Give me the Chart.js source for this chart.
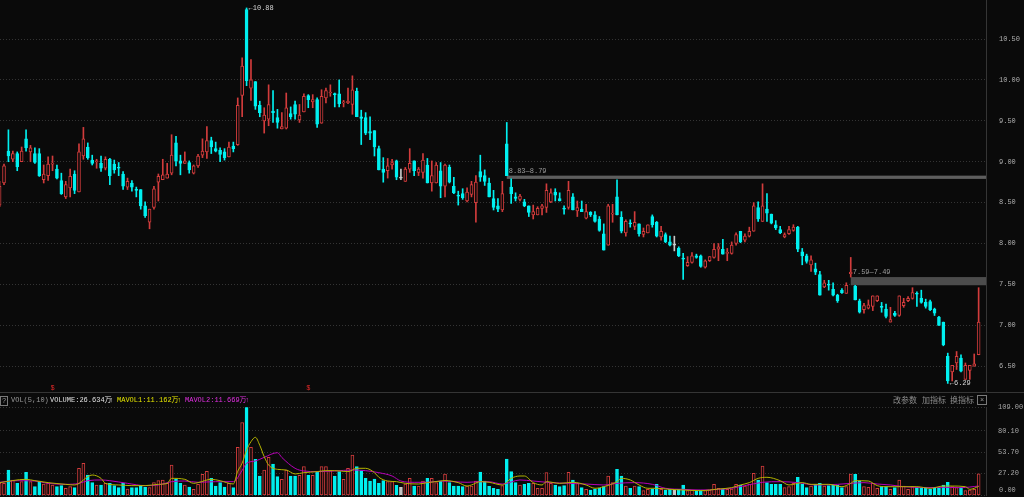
<!DOCTYPE html>
<html>
<head>
<meta charset="utf-8">
<title>K线 + VOL</title>
<script src="https://cdn.jsdelivr.net/npm/chart.js@4.4.1/dist/chart.umd.min.js"></script>
<style>
  html, body { margin: 0; padding: 0; background: #0a0a0a; }
  #wrap { position: relative; width: 1024px; height: 497px; overflow: hidden; background: #0a0a0a; }
  #kline { position: absolute; left: 0; top: 0; }
  #vol { position: absolute; left: 0; top: 392px; }
  .line { position: absolute; background: #353535; }
  .t { position: absolute; top: 395px; height: 10px; line-height: 10px; white-space: nowrap;
       font-family: 'Liberation Mono', 'Noto Sans CJK SC', monospace; font-size: 7px; }
  .cn { font-family: 'Noto Sans CJK SC', sans-serif; font-size: 8px; color: #8c8c8c; }
  .box { position: absolute; border: 1px solid #7a7a7a; color: #9a9a9a; font: 7px 'Liberation Mono', monospace;
         text-align: center; line-height: 8px; }
</style>
</head>
<body>
<div id="wrap">
  <canvas id="kline" width="1024" height="392"></canvas>
  <canvas id="vol" width="1024" height="105"></canvas>
  <div class="line" style="left:0;top:392px;width:1024px;height:1px;"></div>

  <div class="box" style="left:0;top:396px;width:6px;height:8px;">?</div>
  <div class="t" style="left:11px;color:#9a9a9a;">VOL(5,10)</div>
  <div class="t" style="left:50px;color:#e0e0e0;">VOLUME:26.634万</div>
  <div class="t" style="left:109px;color:#e0e0e0;">↑</div>
  <div class="t" style="left:117px;color:#e2e200;">MAVOL1:11.162万</div>
  <div class="t" style="left:177px;color:#e2e200;">↑</div>
  <div class="t" style="left:185px;color:#e030e0;">MAVOL2:11.669万</div>
  <div class="t" style="left:245px;color:#e030e0;">↑</div>

  <div class="t cn" style="left:893px;">改参数</div>
  <div class="t cn" style="left:922px;">加指标</div>
  <div class="t cn" style="left:950px;">换指标</div>
  <div class="box" style="left:977px;top:395px;width:8px;height:8px;">×</div>
</div>

<script>
// 日K 数据
const openP = [
  8.47,8.74,9.13,9.03,9.10,9.00,9.28,9.12,9.10,9.10,
  8.78,8.83,8.97,8.91,8.77,8.57,8.68,8.85,8.63,9.07,
  9.18,9.02,9.00,8.98,8.92,9.03,8.97,8.93,8.85,8.69,
  8.74,8.66,8.66,8.46,8.26,8.44,8.75,8.78,8.80,8.86,
  9.23,9.01,8.98,8.99,8.86,8.95,9.08,9.12,9.26,9.16,
  9.14,9.12,9.06,9.19,9.21,9.81,10.86,9.90,9.98,9.69,
  9.50,9.52,9.62,9.54,9.40,9.41,9.59,9.70,9.51,9.61,
  9.81,9.73,9.76,9.47,9.78,9.84,9.83,9.83,9.72,9.72,
  9.70,9.86,9.55,9.54,9.37,9.38,9.16,8.91,8.89,8.96,
  9.01,8.80,8.76,8.91,9.01,8.87,8.87,8.96,8.74,8.74,
  8.89,8.70,8.93,8.70,8.59,8.61,8.52,8.60,8.50,8.88,
  8.83,8.74,8.55,8.46,8.41,9.22,8.69,8.57,8.54,8.51,
  8.46,8.35,8.35,8.43,8.44,8.51,8.63,8.55,8.43,8.44,
  8.57,8.40,8.42,8.31,8.38,8.35,8.30,8.12,7.98,8.36,
  8.57,8.32,8.13,8.25,8.21,8.24,8.11,8.13,8.33,8.26,
  8.08,8.11,8.02,7.98,7.94,7.82,7.73,7.77,7.85,7.85,
  7.71,7.79,7.83,7.93,7.93,7.88,7.88,8.00,8.15,8.04,
  8.09,8.15,8.44,8.27,8.42,8.36,8.23,8.17,8.08,8.12,
  8.16,8.20,7.90,7.85,7.74,7.69,7.62,7.47,7.50,7.44,
  7.37,7.43,7.39,7.63,7.48,7.30,7.19,7.21,7.23,7.30,
  7.23,7.20,7.04,7.15,7.12,7.24,7.30,7.33,7.39,7.33,
  7.28,7.29,7.20,7.10,7.04,6.62,6.43,6.54,6.60,6.34,
  6.45,6.50,6.64
];
const highP = [
  8.76,8.97,9.39,9.13,9.12,9.18,9.39,9.20,9.17,9.16,
  8.96,9.06,9.07,8.96,8.86,8.76,8.91,8.89,9.22,9.42,
  9.23,9.08,9.03,9.07,9.06,9.04,9.02,8.99,8.88,8.80,
  8.77,8.69,8.66,8.51,8.42,8.70,8.85,9.03,8.98,9.33,
  9.31,9.08,9.12,9.01,8.96,9.09,9.28,9.43,9.30,9.24,
  9.17,9.16,9.24,9.24,9.78,10.27,10.88,10.25,9.98,9.74,
  9.66,9.94,9.87,9.64,9.60,9.84,9.67,9.74,9.70,9.83,
  9.82,9.82,9.78,9.88,9.90,9.94,9.84,10.00,9.75,9.90,
  10.05,9.90,9.63,9.60,9.55,9.38,9.19,9.05,9.04,9.03,
  9.02,8.91,8.93,9.16,9.01,8.93,9.10,9.04,9.01,8.99,
  8.99,8.97,8.96,8.81,8.64,8.67,8.68,8.76,8.83,9.08,
  8.90,8.80,8.65,8.55,8.76,9.48,8.79,8.62,8.60,8.54,
  8.46,8.47,8.45,8.48,8.73,8.67,8.67,8.62,8.46,8.76,
  8.61,8.52,8.52,8.48,8.39,8.39,8.33,8.24,8.48,8.48,
  8.78,8.39,8.29,8.29,8.39,8.24,8.19,8.23,8.35,8.27,
  8.21,8.13,8.09,8.09,7.96,7.88,7.84,7.89,7.87,7.86,
  7.80,7.84,8.00,8.00,8.05,7.94,8.02,8.13,8.15,8.12,
  8.20,8.50,8.51,8.73,8.61,8.36,8.28,8.21,8.13,8.21,
  8.23,8.21,7.94,7.87,7.85,7.76,7.66,7.55,7.55,7.52,
  7.38,7.45,7.52,7.83,7.49,7.32,7.27,7.31,7.36,7.36,
  7.28,7.26,7.22,7.17,7.36,7.33,7.35,7.46,7.41,7.43,
  7.32,7.31,7.21,7.11,7.04,6.66,6.51,6.68,6.64,6.54,
  6.51,6.65,7.46
];
const lowP = [
  8.45,8.72,9.00,9.00,8.89,9.00,9.13,9.00,8.98,8.82,
  8.74,8.77,8.89,8.79,8.60,8.55,8.57,8.61,8.63,9.03,
  9.03,8.96,8.92,8.88,8.90,8.72,8.86,8.83,8.66,8.66,
  8.64,8.57,8.42,8.32,8.18,8.42,8.52,8.78,8.80,8.84,
  8.95,8.84,8.98,8.86,8.85,8.93,9.05,9.04,9.10,9.12,
  9.00,9.02,9.06,9.12,9.20,9.55,9.93,9.75,9.64,9.55,
  9.35,9.44,9.48,9.41,9.40,9.40,9.52,9.52,9.48,9.61,
  9.66,9.66,9.42,9.47,9.72,9.80,9.67,9.67,9.67,9.71,
  9.58,9.55,9.21,9.33,9.27,9.07,8.90,8.75,8.80,8.91,
  8.78,8.78,8.76,8.87,8.83,8.83,8.80,8.74,8.64,8.74,
  8.56,8.57,8.74,8.61,8.47,8.54,8.51,8.57,8.26,8.76,
  8.71,8.57,8.41,8.39,8.39,8.83,8.49,8.52,8.52,8.45,
  8.33,8.30,8.35,8.35,8.38,8.50,8.52,8.52,8.36,8.42,
  8.41,8.33,8.39,8.30,8.33,8.26,8.15,7.92,7.98,8.26,
  8.35,8.13,8.09,8.20,8.17,8.09,8.08,8.13,8.20,8.08,
  8.04,8.01,7.97,7.91,7.84,7.56,7.72,7.76,7.82,7.71,
  7.70,7.78,7.82,7.79,7.87,7.79,7.87,7.98,8.01,8.02,
  8.08,8.15,8.27,8.27,8.27,8.24,8.17,8.12,8.07,8.11,
  8.15,7.90,7.74,7.76,7.66,7.62,7.37,7.46,7.43,7.36,
  7.28,7.39,7.39,7.59,7.31,7.15,7.15,7.20,7.18,7.29,
  7.16,7.09,7.04,7.11,7.11,7.22,7.29,7.32,7.23,7.27,
  7.21,7.18,7.12,7.00,6.75,6.29,6.32,6.46,6.43,6.34,
  6.34,6.50,6.64
];
const closeP = [
  8.70,8.95,9.07,9.10,8.94,9.13,9.17,9.17,8.99,8.83,
  8.85,8.97,8.98,8.80,8.61,8.72,8.82,8.65,9.12,9.28,
  9.05,8.98,9.01,8.92,9.03,8.83,8.90,8.92,8.70,8.76,
  8.69,8.65,8.46,8.34,8.42,8.67,8.82,8.84,8.85,9.08,
  9.01,8.98,9.01,8.90,8.95,9.07,9.13,9.26,9.18,9.13,
  9.09,9.05,9.18,9.16,9.69,10.17,9.99,10.00,9.68,9.60,
  9.57,9.70,9.60,9.48,9.43,9.66,9.55,9.58,9.57,9.80,
  9.76,9.76,9.46,9.80,9.87,9.85,9.82,9.71,9.73,9.74,
  9.88,9.55,9.53,9.35,9.35,9.18,8.90,8.87,8.95,8.99,
  8.81,8.80,8.91,8.98,8.89,8.91,9.02,8.74,8.83,8.96,
  8.70,8.96,8.75,8.62,8.58,8.56,8.63,8.72,8.75,8.81,
  8.76,8.57,8.44,8.42,8.61,8.83,8.61,8.55,8.58,8.46,
  8.38,8.39,8.43,8.46,8.65,8.62,8.59,8.52,8.42,8.65,
  8.41,8.44,8.39,8.39,8.35,8.27,8.16,7.92,8.46,8.37,
  8.35,8.15,8.27,8.24,8.26,8.12,8.15,8.23,8.23,8.09,
  8.15,8.02,7.98,7.98,7.85,7.81,7.77,7.85,7.83,7.72,
  7.79,7.84,7.93,7.96,7.87,7.89,7.98,8.11,8.02,8.09,
  8.15,8.46,8.30,8.46,8.37,8.25,8.19,8.13,8.11,8.17,
  8.20,7.93,7.85,7.78,7.80,7.65,7.37,7.52,7.49,7.37,
  7.30,7.40,7.49,7.65,7.31,7.16,7.24,7.25,7.36,7.36,
  7.22,7.11,7.07,7.12,7.36,7.28,7.33,7.40,7.38,7.28,
  7.23,7.19,7.15,7.00,6.76,6.32,6.51,6.62,6.44,6.51,
  6.51,6.53,7.04
];
// 成交量（万）
const vol = [
  15.0,15.0,31.5,19.2,15.0,17.1,28.6,17.1,10.9,17.9,
  14.2,15.0,13.0,10.9,12.2,8.9,10.9,9.7,33.6,39.8,
  25.3,15.9,13.0,13.0,15.0,15.0,12.2,9.7,15.0,8.0,
  9.7,9.7,12.2,10.1,9.7,15.9,18.3,19.2,15.0,37.7,
  20.0,15.0,13.0,10.5,7.6,13.8,26.2,29.9,21.2,11.7,
  15.9,10.5,15.0,9.7,59.5,90.0,109.0,59.5,44.7,24.1,
  31.5,47.2,38.9,23.3,20.0,31.5,24.1,24.1,24.9,35.6,
  25.3,24.9,28.6,35.6,35.6,30.7,24.1,29.5,20.0,33.6,
  50.1,35.6,30.7,21.2,17.9,20.4,15.0,18.3,17.1,17.1,
  12.6,10.1,14.2,21.2,11.7,11.7,17.9,21.2,21.2,15.9,
  17.9,26.6,15.9,11.7,11.7,10.9,11.7,11.7,17.9,29.0,
  17.9,11.3,8.9,7.6,12.2,45.1,29.5,15.9,13.0,13.8,
  15.0,15.0,8.9,8.9,28.2,15.0,13.0,10.9,12.2,28.6,
  19.2,15.0,9.7,7.6,6.8,7.6,8.9,10.9,24.1,15.9,
  32.3,24.1,11.7,8.9,11.7,10.9,6.0,7.6,7.6,13.8,
  7.6,6.8,7.6,6.8,7.6,13.0,6.0,6.8,5.6,6.8,
  6.0,6.8,13.8,8.9,7.6,7.6,8.0,13.8,13.0,11.7,
  13.8,27.4,19.2,36.5,15.9,13.8,13.8,13.8,9.7,10.9,
  15.0,22.5,13.8,9.7,11.7,13.8,15.0,11.7,12.2,13.0,
  13.0,9.7,10.9,26.6,26.2,17.9,10.9,10.1,15.0,8.9,
  10.9,10.9,7.6,9.7,19.2,11.7,7.6,10.9,10.1,8.9,
  9.7,7.6,8.9,8.9,13.0,16.3,10.9,9.7,9.7,6.0,
  6.8,7.6,26.634
];
// MAVOL 线（按图上位置读取的采样点）
const ma5At = [0,6,8,11,15,17,21,23,24,27,30,33,36,38,39,42,44,45,48,50,53,54,55,56,57,58,59,60,61,63,65,67,69,72,74,76,79,81,83,85,86,88,90,92,95,97,100,101,104,106,107,109,111,114,116,118,119,121,123,124,127,130,133,135,137,140,141,143,145,147,149,152,155,159,163,166,168,170,172,174,177,179,182,184,186,188,191,193,194,197,199,201,203,206,208,211,214,216,219,220,222];
const ma5 = [15.9,20,18.3,15.9,13.8,13,25.3,21.2,15,13,12.2,12.2,13.8,15,21.2,20,15,15.9,20,18.3,14.2,30,40,56,66.5,71.9,62,48,37.7,32.3,31.5,26.6,28.2,29.5,30.7,30.7,29.5,33.6,33.6,28.2,22.5,17.9,17.1,15,14.2,15.9,17.9,18.5,15.9,11.7,13,17.1,16.3,13,21.2,24.1,24.1,15.9,13,17.1,15,16.3,13,8.9,10.9,17.1,21.2,19.2,13,8.9,8.9,7.6,6.8,6,8,9.7,13,15.9,21.2,22.5,18.3,13,15.9,13.8,13.8,13.8,10.9,15,18.3,17.9,12.2,10.9,10.9,10.9,10.9,8.9,11.7,11.7,10.9,7.6,11.162];
const ma10At = [0,4,8,11,15,18,20,23,25,29,33,36,39,42,45,49,53,55,56,58,60,63,64,67,69,72,76,80,83,86,89,91,94,97,100,103,106,109,111,114,118,121,125,129,133,137,140,144,148,151,155,159,163,166,169,173,177,181,185,190,193,196,199,202,205,210,214,218,222];
const ma10 = [16.3,18.3,17.9,15,13.8,15,18.3,19.2,18.3,15,12.2,13,17.1,17.9,16.3,17.1,17.1,31,39.8,42.6,47.2,52.9,47,33.6,30.3,29.5,30.3,31.5,30.7,28.2,24.1,17.9,16.3,16.3,17.9,17.1,16.3,17.1,17,14.2,19.2,17.9,15.9,15,14.2,13,15,15.9,13.8,8.9,7.6,6.8,7.6,8.9,12.2,16.3,17.1,15.9,13,13.8,15,15.9,14.2,13,10.9,9.7,10.1,9.7,11.669];

// 坐标刻度
const priceTicks = [6.5, 7.0, 7.5, 8.0, 8.5, 9.0, 9.5, 10.0, 10.5];
const volTicks = [0, 27.2, 53.7, 80.1, 109];

// 缺口 / 标记
const gapFrom = [115, 193];
const gapHigh = [8.83, 7.59];
const gapLow = [8.79, 7.49];
const markIdx = [12, 70];
const highIdx = 56;
const lowIdx = 215;

const N = openP.length;
[highP, lowP, closeP, vol].forEach((a, k) => {
  if (a.length !== N) throw new Error('数据长度不一致: ' + k + ' ' + a.length + ' vs ' + N);
});

const UP = '#d23c3c';
const DOWN = '#00f0f0';
const FLAT = '#c8c8c8';
const BG = '#0a0a0a';
const FONT = 'Liberation Mono';

function dir(i) {
  if (closeP[i] > openP[i]) return 1;
  if (closeP[i] < openP[i]) return -1;
  return 0;
}
function lineColor(i) {
  const d = dir(i);
  return d > 0 ? UP : (d < 0 ? DOWN : FLAT);
}
function fillColor(i) {
  const d = dir(i);
  return d > 0 ? BG : (d < 0 ? DOWN : FLAT);
}

Chart.defaults.font.family = FONT;
Chart.defaults.animation = false;

// x 轴：每根K线间距约 4.41px
const X_MIN = 0.09;
const X_MAX = 223.67;

function rightAxisFit(scale) {
  scale.width = 38;
  scale.paddingTop = 0;
  scale.paddingBottom = 0;
}

const klineOverlay = {
  id: 'klineOverlay',
  beforeDatasetsDraw(chart) {
    const {ctx, chartArea, scales: {x, y}} = chart;
    ctx.save();
    gapFrom.forEach((from, k) => {
      const x0 = x.getPixelForValue(from);
      const y0 = y.getPixelForValue(gapHigh[k]);
      const y1 = y.getPixelForValue(gapLow[k]);
      ctx.fillStyle = k === 0 ? '#5e5e5e' : '#4c4c4c';
      ctx.fillRect(x0, y0, chartArea.right - x0, y1 - y0);
      ctx.fillStyle = '#9c9c9c';
      ctx.font = '7px ' + FONT;
      ctx.textBaseline = 'bottom';
      ctx.fillText(gapHigh[k].toFixed(2) + '—' + gapLow[k].toFixed(2), x0 + 2, y0 - 1);
    });
    ctx.restore();
  },
  afterDatasetsDraw(chart) {
    const {ctx, scales: {x, y}} = chart;
    ctx.save();
    ctx.font = '7px ' + FONT;
    ctx.textBaseline = 'middle';
    ctx.fillStyle = '#d8d8d8';
    ctx.fillText('←' + highP[highIdx].toFixed(2), x.getPixelForValue(highIdx) + 2, y.getPixelForValue(highP[highIdx]));
    ctx.fillText('←' + lowP[lowIdx].toFixed(2), x.getPixelForValue(lowIdx) + 2, y.getPixelForValue(lowP[lowIdx]));
    ctx.fillStyle = '#e02828';
    ctx.textAlign = 'center';
    markIdx.forEach(i => ctx.fillText('$', x.getPixelForValue(i), 388));
    ctx.restore();
  }
};

new Chart(document.getElementById('kline'), {
  type: 'bar',
  data: {
    datasets: [
      {
        label: 'body',
        order: 0,
        data: openP.map((o, i) => ({x: i, y: [o, closeP[i]]})),
        backgroundColor: c => fillColor(c.dataIndex),
        borderColor: c => lineColor(c.dataIndex),
        borderWidth: 1,
        borderSkipped: false,
        barThickness: 3,
        minBarLength: 1,
        grouped: false
      },
      {
        label: 'wick',
        order: 1,
        data: lowP.map((l, i) => ({x: i, y: [l, highP[i]]})),
        backgroundColor: c => lineColor(c.dataIndex),
        borderWidth: 0,
        barThickness: 1,
        grouped: false
      }
    ]
  },
  options: {
    responsive: false,
    devicePixelRatio: 1,
    layout: {padding: 0},
    plugins: {legend: {display: false}, tooltip: {enabled: false}},
    scales: {
      x: {type: 'linear', display: false, min: X_MIN, max: X_MAX, offset: false},
      y: {
        position: 'right',
        min: 6.185,
        max: 10.977,
        afterBuildTicks: s => { s.ticks = priceTicks.map(v => ({value: v})); },
        afterFit: rightAxisFit,
        grid: {color: '#343434', drawTicks: false},
        border: {display: true, color: '#353535', dash: [1, 2]},
        ticks: {
          autoSkip: false,
          padding: 13,
          color: '#b0b0b0',
          font: {size: 7, family: FONT},
          callback: v => v.toFixed(2)
        }
      }
    }
  },
  plugins: [klineOverlay]
});

const volOverlay = {
  id: 'volOverlay',
  afterDraw(chart) {
    const {ctx, scales: {y}} = chart;
    ctx.save();
    ctx.font = '7px ' + FONT;
    ctx.fillStyle = '#a8a8a8';
    ctx.textBaseline = 'middle';
    ctx.fillText(volTicks[0].toFixed(2), 999, y.getPixelForValue(0) - 5);
    ctx.restore();
  }
};

new Chart(document.getElementById('vol'), {
  type: 'bar',
  data: {
    datasets: [
      {
        type: 'line',
        label: 'MAVOL1',
        order: 0,
        data: ma5At.map((i, k) => ({x: i, y: ma5[k]})),
        borderColor: '#b4b400',
        borderWidth: 1,
        pointRadius: 0,
        cubicInterpolationMode: 'monotone'
      },
      {
        type: 'line',
        label: 'MAVOL2',
        order: 1,
        data: ma10At.map((i, k) => ({x: i, y: ma10[k]})),
        borderColor: '#b800b8',
        borderWidth: 1,
        pointRadius: 0,
        cubicInterpolationMode: 'monotone'
      },
      {
        type: 'bar',
        label: 'VOLUME',
        order: 2,
        data: vol.map((v, i) => ({x: i, y: v})),
        backgroundColor: c => fillColor(c.dataIndex),
        borderColor: c => lineColor(c.dataIndex),
        borderWidth: 1,
        borderSkipped: false,
        barThickness: 3,
        grouped: false
      }
    ]
  },
  options: {
    responsive: false,
    devicePixelRatio: 1,
    layout: {padding: {top: 15.3, bottom: 1.5, left: 0, right: 0}},
    plugins: {legend: {display: false}, tooltip: {enabled: false}},
    scales: {
      x: {type: 'linear', display: false, min: X_MIN, max: X_MAX, offset: false},
      y: {
        position: 'right',
        min: 0,
        max: 109,
        afterBuildTicks: s => { s.ticks = volTicks.map(v => ({value: v})); },
        afterFit: rightAxisFit,
        grid: {color: '#343434', drawTicks: false},
        border: {display: true, color: '#353535', dash: [1, 2]},
        ticks: {
          autoSkip: false,
          padding: 12,
          color: '#a8a8a8',
          font: {size: 7, family: FONT},
          callback: v => (v === 0 ? '' : v.toFixed(2))
        }
      }
    }
  },
  plugins: [volOverlay]
});

// 右侧分隔竖线延伸到顶部
</script>
</body>
</html>
